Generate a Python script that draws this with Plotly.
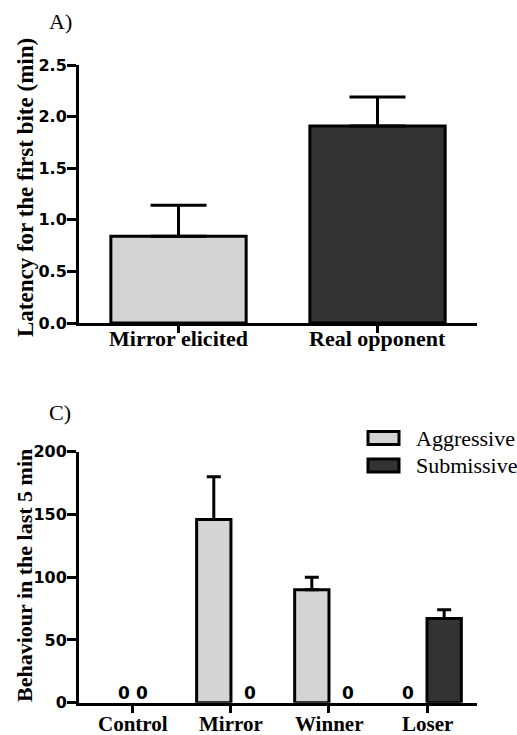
import plotly.graph_objects as go

# Panel A: latency for the first bite (mean, upper SEM)
groups_a = ["Mirror elicited", "Real opponent"]
latency_mean = [0.84, 1.91]
latency_sem = [0.30, 0.28]

# Panel C: behaviour counts in the last 5 min (mean, upper SEM)
groups_c = ["Control", "Mirror", "Winner", "Loser"]
aggressive_mean = [0, 146, 90, 0]
aggressive_sem = [0, 34, 10, 0]
submissive_mean = [0, 0, 0, 67]
submissive_sem = [0, 0, 0, 7]

yticks_a = [0.0, 0.5, 1.0, 1.5, 2.0, 2.5]
yticks_c = [0, 50, 100, 150, 200]

LIGHT = "#d4d4d4"
DARK = "#333333"
W, H = 517, 735
SERIF = "Liberation Serif"
SANS = "DejaVu Sans"
BAR_W = 0.35  # width of each bar in panel C (category units)


def px_x(p):
    return p / W


def px_y(p):
    return 1 - p / H


def outline_widths(vals):
    # no outline on empty bars so they don't thicken the baseline
    return [3 if v else 0 for v in vals]


def upper_error_trace(mean, sem, shift):
    # upper-only SEM whiskers, skipped for empty groups
    idx = [i for i, s in enumerate(sem) if s]
    return go.Scatter(
        x=[i + shift for i in idx], y=[mean[i] for i in idx], mode="markers",
        marker=dict(size=1, color="rgba(0,0,0,0)"),
        error_y=dict(type="data", symmetric=False, array=[sem[i] for i in idx],
                     arrayminus=[0] * len(idx), thickness=3, width=7, color="black"),
        xaxis="x2", yaxis="y2", showlegend=False, hoverinfo="skip",
    )


fig = go.Figure()

# --- Panel A bars
fig.add_trace(go.Bar(
    x=list(range(len(groups_a))), y=latency_mean, width=0.68,
    marker=dict(color=[LIGHT, DARK], line=dict(color="black", width=3)),
    error_y=dict(type="data", symmetric=False, array=latency_sem,
                 arrayminus=[0] * len(latency_sem), thickness=3, width=28,
                 color="black"),
    xaxis="x", yaxis="y", showlegend=False,
))

# --- Panel C bars
n = len(groups_c)
fig.add_trace(go.Bar(
    name="Aggressive", x=list(range(n)), y=aggressive_mean, width=BAR_W, offset=-BAR_W,
    marker=dict(color=LIGHT, line=dict(color="black", width=outline_widths(aggressive_mean))),
    xaxis="x2", yaxis="y2", showlegend=False,
))
fig.add_trace(go.Bar(
    name="Submissive", x=list(range(n)), y=submissive_mean, width=BAR_W, offset=0,
    marker=dict(color=DARK, line=dict(color="black", width=outline_widths(submissive_mean))),
    xaxis="x2", yaxis="y2", showlegend=False,
))
fig.add_trace(upper_error_trace(aggressive_mean, aggressive_sem, -BAR_W / 2))
fig.add_trace(upper_error_trace(submissive_mean, submissive_sem, BAR_W / 2))

axis_common = dict(showline=True, linecolor="black", linewidth=3, showgrid=False,
                   zeroline=False, ticks="outside", tickcolor="black",
                   tickwidth=3, fixedrange=True, automargin=False)

num_font = dict(family=SANS, size=16, color="black", weight="bold")

fig.update_layout(
    template="none",
    width=W, height=H, margin=dict(l=0, r=0, t=0, b=0, pad=0, autoexpand=False),
    paper_bgcolor="white", plot_bgcolor="white", barmode="overlay",
    xaxis=dict(domain=[px_x(79), px_x(477)], anchor="y", range=[-0.5, 1.5],
               tickvals=list(range(len(groups_a))), showticklabels=False, ticklen=7,
               **axis_common),
    yaxis=dict(domain=[px_y(323), px_y(65)], anchor="x", range=[0, 2.5],
               tickvals=yticks_a, ticktext=[f"{v:.1f}" for v in yticks_a], ticklen=9,
               ticklabelstandoff=-3, tickfont=num_font, **axis_common),
    xaxis2=dict(domain=[px_x(79), px_x(477)], anchor="y2", range=[-0.55, 3.51],
                tickvals=list(range(n)), showticklabels=False, ticklen=7,
                **axis_common),
    yaxis2=dict(domain=[px_y(702.7), px_y(451.7)], anchor="x2", range=[0, 200],
                tickvals=yticks_c, ticktext=[str(v) for v in yticks_c], ticklen=9,
                ticklabelstandoff=-3, tickfont=num_font, **axis_common),
)

annotations = []

# Category labels under each axis
for labels, xref, ypx, size in ((groups_a, "x", 338.5, 22), (groups_c, "x2", 724, 21)):
    for i, lab in enumerate(labels):
        annotations.append(dict(text=lab, x=i, y=px_y(ypx), xref=xref, yref="paper",
                                xanchor="center", yanchor="middle", showarrow=False,
                                font=dict(family=SERIF, size=size, color="black",
                                          weight="bold")))

# Axis titles
annotations.append(dict(text="Latency for the first bite (min)", textangle=-90,
                        x=px_x(25), y=px_y(188), xref="paper", yref="paper",
                        xanchor="center", yanchor="middle", showarrow=False,
                        font=dict(family=SERIF, size=23, color="black", weight="bold")))
annotations.append(dict(text="Behaviour in the last 5 min", textangle=-90,
                        x=px_x(24), y=px_y(576), xref="paper", yref="paper",
                        xanchor="center", yanchor="middle", showarrow=False,
                        font=dict(family=SERIF, size=22, color="black", weight="bold")))
# Panel letters
for label, ypx in (("A)", 21), ("C)", 412)):
    annotations.append(dict(text=label, x=px_x(47), y=px_y(ypx), xref="paper", yref="paper",
                            xanchor="left", yanchor="middle", showarrow=False,
                            font=dict(family=SERIF, size=22, color="black")))

# Zero-value labels above empty bars
for i in range(n):
    both_zero = aggressive_mean[i] == 0 and submissive_mean[i] == 0
    for vals, side in ((aggressive_mean, -1), (submissive_mean, 1)):
        if vals[i] == 0:
            dx = (0.09 if both_zero else 0.19) * side
            annotations.append(dict(text=str(vals[i]), x=i + dx, y=vals[i],
                                    xref="x2", yref="y2", yanchor="bottom", yshift=-2,
                                    showarrow=False, font=num_font | dict(size=17)))

# Legend
shapes = []
for name, color, ypx in (("Aggressive", LIGHT, 438), ("Submissive", DARK, 465.5)):
    shapes.append(dict(type="rect", xref="paper", yref="paper",
                       x0=px_x(368), x1=px_x(399), y0=px_y(ypx + 6.5), y1=px_y(ypx - 6.5),
                       fillcolor=color, line=dict(color="black", width=3)))
    annotations.append(dict(text=name, x=px_x(414), y=px_y(ypx), xref="paper", yref="paper",
                            xanchor="left", yanchor="middle", showarrow=False,
                            font=dict(family=SERIF, size=22, color="black")))

fig.update_layout(annotations=annotations, shapes=shapes)

fig.write_html("out.html")
